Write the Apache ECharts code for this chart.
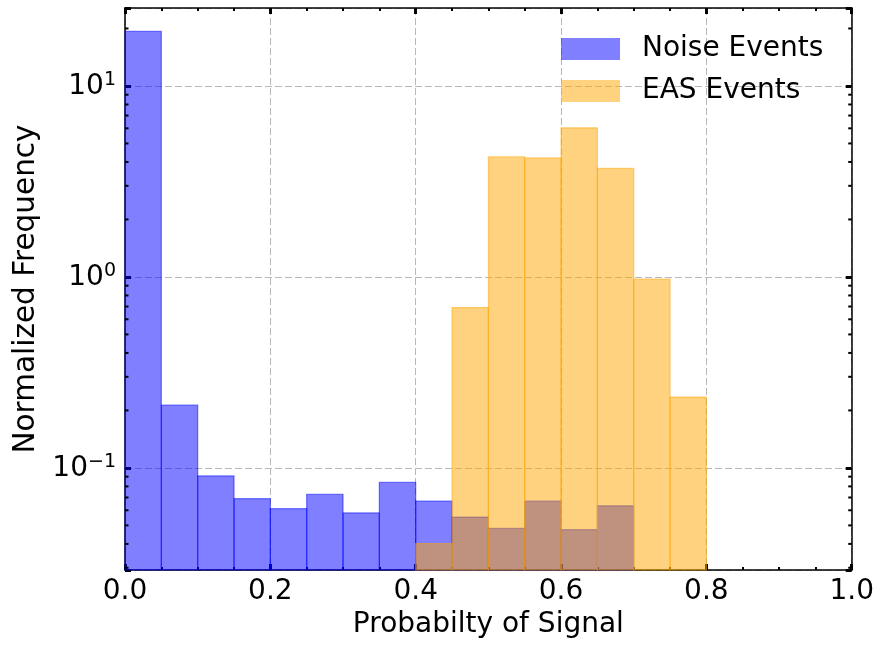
<!DOCTYPE html>
<html>
<head>
<meta charset="utf-8">
<style>
  html, body { margin: 0; padding: 0; background: #fff; }
  #main { width: 877px; height: 645px; }
</style>
<script src="https://cdn.jsdelivr.net/npm/echarts@6/dist/echarts.min.js"></script>
</head>
<body>
<div id="main"></div>
<script>
// histogram bins (width 0.05)
var binEdges = [0, 0.05, 0.1, 0.15, 0.2, 0.25, 0.3, 0.35, 0.4, 0.45, 0.5, 0.55, 0.6, 0.65, 0.7, 0.75, 0.8]
var noiseCounts = [19.3, 0.213, 0.0908, 0.069, 0.0612, 0.0728, 0.0581, 0.0841, 0.0671, 0.0553, 0.0482, 0.0671, 0.0475, 0.0633, 0, 0]
var easCounts = [0, 0, 0, 0, 0, 0, 0, 0, 0.0402, 0.691, 4.26, 4.2, 6.04, 3.7, 0.973, 0.235]
var xTicks = [0, 0.2, 0.4, 0.6, 0.8, 1.0]

var yMin = 0.0292
var yMax = 25.6
var font = 'DejaVu Sans'

function toBins (counts) {
  var out = []
  for (var i = 0; i < counts.length; i++) {
    if (counts[i] > 0) out.push([binEdges[i], binEdges[i + 1], counts[i]])
  }
  return out
}

function histItem (fill) {
  return function (params, api) {
    var top = api.coord([api.value(0), api.value(2)])
    var bot = api.coord([api.value(1), yMin])
    return {
      type: 'rect',
      shape: { x: top[0], y: top[1], width: bot[0] - top[0], height: bot[1] - top[1] },
      style: { fill: fill, stroke: fill, lineWidth: 1.2 }
    }
  }
}

var chartDom = document.getElementById('main')
var myChart = echarts.init(chartDom)

var gridLine = { show: true, lineStyle: { color: '#b8b8b8', width: 1, type: [7, 3] } }
var majorTick = { show: true, inside: true, length: 6, lineStyle: { color: '#000', width: 3 } }
var minorTickX = { show: true, splitNumber: 4, length: 3, lineStyle: { color: '#000', width: 2 } }

function logLabel (v) {
  var e = Math.log10(v)
  var r = Math.round(e)
  if (Math.abs(e - r) > 1e-6) return ''
  return '{b|10}{s|' + (r < 0 ? '\u2212' + (-r) : r) + '}'
}

var option = {
  animation: false,
  textStyle: { fontFamily: font },
  grid: { left: 125, right: 25, top: 8, bottom: 75 },
  legend: {
    orient: 'vertical',
    left: 561,
    top: 35,
    padding: 0,
    icon: 'rect',
    itemWidth: 59,
    itemHeight: 22,
    itemGap: 14,
    textStyle: { fontFamily: font, fontSize: 28, lineHeight: 22, color: '#000', padding: [0, 0, 0, 17] },
    data: ['Noise Events', 'EAS Events']
  },
  xAxis: [{
    type: 'value',
    min: 0,
    max: 1,
    interval: 0.2,
    name: 'Probabilty of Signal',
    nameLocation: 'middle',
    nameGap: 39,
    nameTextStyle: { fontFamily: font, fontSize: 28, color: '#000' },
    axisLine: { show: true, onZero: false, lineStyle: { color: '#000', width: 1.5 } },
    axisTick: majorTick,
    minorTick: minorTickX,
    axisLabel: {
      fontFamily: font, fontSize: 28, color: '#000', margin: 8,
      formatter: function (v) { return xTicks.indexOf(v) >= 0 || Math.abs(v - 1) < 1e-9 ? v.toFixed(1) : '' }
    },
    splitLine: gridLine
  }, {
    type: 'value',
    position: 'top',
    min: 0,
    max: 1,
    interval: 0.2,
    axisLine: { show: true, onZero: false, lineStyle: { color: '#000', width: 1.5 } },
    axisTick: majorTick,
    minorTick: minorTickX,
    axisLabel: { show: false },
    splitLine: { show: false }
  }],
  yAxis: [{
    type: 'log',
    logBase: 10,
    min: yMin,
    max: yMax,
    name: 'Normalized Frequency',
    nameLocation: 'middle',
    nameGap: 84,
    nameTextStyle: { fontFamily: font, fontSize: 29.5, color: '#000' },
    axisLine: { show: true, onZero: false, lineStyle: { color: '#000', width: 1.5 } },
    axisTick: majorTick,
    axisLabel: {
      margin: 9,
      formatter: logLabel,
      rich: {
        b: { fontFamily: font, fontSize: 28, color: '#000', lineHeight: 30, verticalAlign: 'bottom' },
        s: { fontFamily: font, fontSize: 19, color: '#000', lineHeight: 18, verticalAlign: 'top' }
      }
    },
    splitLine: gridLine
  }, {
    type: 'log',
    logBase: 10,
    min: yMin,
    max: yMax,
    position: 'right',
    axisLine: { show: true, onZero: false, lineStyle: { color: '#000', width: 1.5 } },
    axisTick: majorTick,
    axisLabel: { show: false },
    splitLine: { show: false }
  }],
  series: [{
    name: 'Noise Events',
    type: 'custom',
    itemStyle: { color: 'rgba(0,0,255,0.5)' },
    renderItem: histItem('rgba(0,0,255,0.5)'),
    encode: { x: [0, 1], y: 2 },
    data: toBins(noiseCounts)
  }, {
    name: 'EAS Events',
    type: 'custom',
    itemStyle: { color: 'rgba(255,165,0,0.5)' },
    renderItem: histItem('rgba(255,165,0,0.5)'),
    encode: { x: [0, 1], y: 2 },
    data: toBins(easCounts)
  }]
}

myChart.setOption(option)

// log minor ticks (2..9 x 10^n) on left and right spines
function addMinorTicks () {
  var els = []
  var left = myChart.convertToPixel({ xAxisIndex: 0 }, 0)
  var right = myChart.convertToPixel({ xAxisIndex: 0 }, 1)
  for (var n = -2; n <= 1; n++) {
    for (var k = 2; k <= 9; k++) {
      var v = k * Math.pow(10, n)
      if (v <= yMin || v >= yMax) continue
      var y = myChart.convertToPixel({ yAxisIndex: 0 }, v)
      els.push({ type: 'line', shape: { x1: left, y1: y, x2: left + 3.5, y2: y }, style: { stroke: '#000', lineWidth: 2 }, z: 10 })
      els.push({ type: 'line', shape: { x1: right, y1: y, x2: right - 3.5, y2: y }, style: { stroke: '#000', lineWidth: 2 }, z: 10 })
    }
  }
  myChart.setOption({ graphic: els })
}
addMinorTicks()
window.addEventListener('resize', () => myChart.resize())
</script>
</body>
</html>
